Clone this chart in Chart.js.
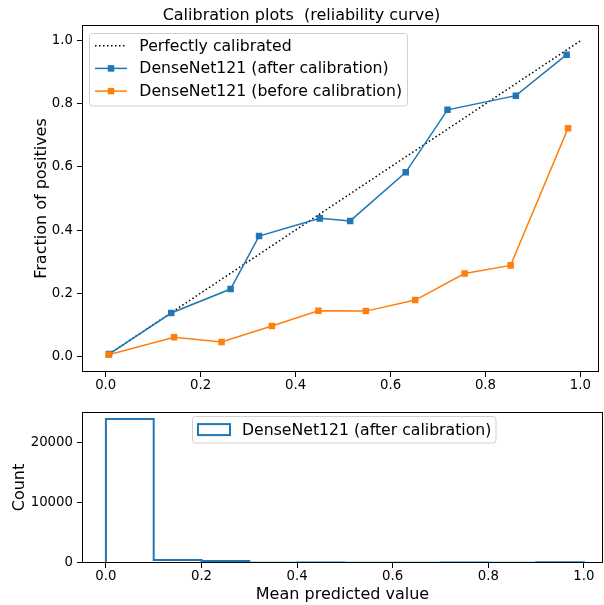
<!DOCTYPE html>
<html><head><meta charset="utf-8">
<script src="https://cdn.jsdelivr.net/npm/chart.js@4/dist/chart.umd.min.js"></script>
<style>
html,body{margin:0;padding:0;background:#fff;}
#wrap{position:relative;width:604px;height:605px;overflow:hidden;}
#c1{position:absolute;left:0;top:0;}
#c2{position:absolute;left:0;top:400px;}
</style></head><body>
<div id="wrap"><canvas id="c1" width="604" height="400"></canvas><canvas id="c2" width="604" height="205"></canvas></div>
<script>
// ---- data ----
const perfectX = [0, 1];
const perfectY = [0, 1];
const afterX  = [0.007, 0.138, 0.263, 0.323, 0.451, 0.515, 0.632, 0.720, 0.864, 0.971];
const afterY  = [0.007, 0.137, 0.213, 0.381, 0.437, 0.429, 0.583, 0.781, 0.826, 0.956];
const beforeX = [0.006, 0.144, 0.244, 0.350, 0.448, 0.548, 0.652, 0.756, 0.853, 0.974];
const beforeY = [0.005, 0.060, 0.045, 0.096, 0.144, 0.143, 0.178, 0.262, 0.288, 0.723];
const binEdges  = [0, 0.1, 0.2, 0.3, 0.4, 0.5, 0.6, 0.7, 0.8, 0.9, 1.0];
const binCounts = [23900, 485, 350, 30, 100, 40, 40, 100, 40, 110];
const xTicks = [0, 0.2, 0.4, 0.6, 0.8, 1.0];
const yTicksTop = [0, 0.2, 0.4, 0.6, 0.8, 1.0];
const yTicksBottom = [0, 10000, 20000];
const labels = {
  title: 'Calibration plots  (reliability curve)',
  perfect: 'Perfectly calibrated',
  after: 'DenseNet121 (after calibration)',
  before: 'DenseNet121 (before calibration)',
  yTop: 'Fraction of positives',
  yBottom: 'Count',
  xBottom: 'Mean predicted value'
};

const FONT = "'DejaVu Sans', sans-serif";
const BLUE = '#1f77b4', ORANGE = '#ff7f0e';
const zip = (xs, ys) => xs.map((x, i) => ({x: x, y: ys[i]}));
function stepOutline(edges, counts) {
  const pts = [{x: edges[0], y: 0}];
  counts.forEach((c, i) => { pts.push({x: edges[i], y: c}); pts.push({x: edges[i + 1], y: c}); });
  pts.push({x: edges[edges.length - 1], y: 0});
  return pts;
}

// frame (all four spines) drawn above data
const framePlugin = {
  id: 'frame',
  afterDatasetsDraw(chart) {
    const a = chart.chartArea, ctx = chart.ctx;
    ctx.save();
    ctx.strokeStyle = '#000';
    ctx.lineWidth = 1;
    ctx.strokeRect(Math.round(a.left) + 0.5, Math.round(a.top) + 0.5,
                   Math.round(a.right - a.left) - 1, Math.round(a.bottom - a.top) - 1);
    ctx.restore();
  }
};

// legend box drawn inside plot area (matplotlib style)
const boxLegendPlugin = {
  id: 'boxLegend',
  afterDraw(chart, args, o) {
    if (!o || !o.entries) return;
    const ctx = chart.ctx;
    ctx.save();
    const r = 3;
    ctx.beginPath();
    ctx.moveTo(o.x + r, o.y);
    ctx.arcTo(o.x + o.w, o.y, o.x + o.w, o.y + o.h, r);
    ctx.arcTo(o.x + o.w, o.y + o.h, o.x, o.y + o.h, r);
    ctx.arcTo(o.x, o.y + o.h, o.x, o.y, r);
    ctx.arcTo(o.x, o.y, o.x + o.w, o.y, r);
    ctx.closePath();
    ctx.fillStyle = 'rgba(255,255,255,0.8)';
    ctx.fill();
    ctx.strokeStyle = '#d0d0d0';
    ctx.lineWidth = 1;
    ctx.stroke();
    o.entries.forEach((e, i) => {
      const ds = chart.data.datasets[e];
      const cy = o.firstRow + i * o.rowH;
      const x0 = o.sampleX, x1 = o.sampleX + o.sampleW;
      if (o.kind === 'patch') {
        ctx.fillStyle = '#fff';
        ctx.fillRect(x0, cy - 5.5, o.sampleW, 11);
        ctx.strokeStyle = ds.borderColor;
        ctx.lineWidth = 2;
        ctx.strokeRect(x0, cy - 5.5, o.sampleW, 11);
      } else {
        ctx.strokeStyle = ds.borderColor;
        ctx.lineWidth = ds.borderWidth;
        ctx.setLineDash(ds.borderDash || []);
        ctx.beginPath();
        ctx.moveTo(x0, cy); ctx.lineTo(x1, cy);
        ctx.stroke();
        ctx.setLineDash([]);
        if (ds.pointRadius > 0) {
          const s = ds.pointRadius * Math.SQRT1_2;
          ctx.fillStyle = ds.borderColor;
          ctx.fillRect((x0 + x1) / 2 - s, cy - s, 2 * s, 2 * s);
        }
      }
      ctx.fillStyle = '#000';
      ctx.font = '15.7px ' + FONT;
      ctx.textBaseline = 'middle';
      ctx.textAlign = 'left';
      ctx.fillText(ds.label, o.textX, cy + 1);
    });
    ctx.restore();
  }
};

const tickFont = {family: FONT, size: 13.3};
const labelFont = {family: FONT, size: 16};
const gridOpts = {display: true, drawOnChartArea: false, drawTicks: true, tickLength: 5, tickColor: '#000', tickWidth: 1};

function xScale(extra) {
  return Object.assign({
    type: 'linear', min: -0.05, max: 1.04,
    grid: gridOpts, border: {display: false},
    afterBuildTicks: s => { s.ticks = xTicks.map(v => ({value: v})); },
    ticks: {color: '#000', font: tickFont, padding: 0.5, maxRotation: 0, callback: v => v.toFixed(1)}
  }, extra);
}

new Chart(document.getElementById('c1'), {
  type: 'scatter',
  data: {
    datasets: [
      {label: labels.perfect, data: zip(perfectX, perfectY), showLine: true, borderColor: '#000',
       borderWidth: 1.5, borderDash: [1.5, 2.5], pointRadius: 0, order: 2},
      {label: labels.after, data: zip(afterX, afterY), showLine: true, borderColor: BLUE, backgroundColor: BLUE,
       borderWidth: 1.5, pointStyle: 'rect', pointRadius: 4.6, pointBackgroundColor: BLUE, pointBorderWidth: 0, order: 1},
      {label: labels.before, data: zip(beforeX, beforeY), showLine: true, borderColor: ORANGE, backgroundColor: ORANGE,
       borderWidth: 1.5, pointStyle: 'rect', pointRadius: 4.6, pointBackgroundColor: ORANGE, pointBorderWidth: 0, order: 0}
    ]
  },
  options: {
    responsive: false, animation: false, devicePixelRatio: 1,
    layout: {padding: {left: 0, right: 1, top: 0, bottom: 0}},
    scales: {
      x: xScale({afterFit: s => { s.height = 28; }}),
      y: {
        type: 'linear', min: -0.05, max: 1.05,
        grid: gridOpts, border: {display: false},
        afterBuildTicks: s => { s.ticks = yTicksTop.map(v => ({value: v})); },
        afterFit: s => { s.width = 82; },
        ticks: {color: '#000', font: tickFont, padding: 4, callback: v => v.toFixed(1)},
        title: {display: true, text: labels.yTop, color: '#000', font: labelFont, padding: {top: 32, bottom: 0}}
      }
    },
    plugins: {
      legend: {display: false},
      tooltip: {enabled: false},
      title: {display: true, text: labels.title, color: '#000', font: {family: FONT, size: 16, weight: 'normal'},
              padding: {top: 6.5, bottom: -0.7}},
      boxLegend: {x: 89.5, y: 33.5, w: 318, h: 72.5, entries: [0, 1, 2], firstRow: 45.7, rowH: 22.7,
                  sampleX: 95, sampleW: 32, textX: 139.3}
    }
  },
  plugins: [framePlugin, boxLegendPlugin]
});

new Chart(document.getElementById('c2'), {
  type: 'scatter',
  data: {
    datasets: [
      {label: labels.after, data: stepOutline(binEdges, binCounts), showLine: true, borderColor: BLUE,
       backgroundColor: '#fff', borderWidth: 2, pointRadius: 0, borderJoinStyle: 'miter'}
    ]
  },
  options: {
    responsive: false, animation: false, devicePixelRatio: 1,
    layout: {padding: {left: 0, right: 1, top: 8, bottom: 0}},
    scales: {
      x: xScale({
        afterFit: s => { s.height = 42; },
        title: {display: true, text: labels.xBottom, color: '#000', font: labelFont, padding: {top: 0, bottom: 0.5}}
      }),
      y: {
        type: 'linear', min: 0, max: 25060,
        grid: gridOpts, border: {display: false},
        afterBuildTicks: s => { s.ticks = yTicksBottom.map(v => ({value: v})); },
        afterFit: s => { s.width = 82; },
        ticks: {color: '#000', font: tickFont, padding: 4, callback: v => String(v)},
        title: {display: true, text: labels.yBottom, color: '#000', font: labelFont, padding: {top: 10, bottom: 0}}
      }
    },
    plugins: {
      legend: {display: false},
      tooltip: {enabled: false},
      boxLegend: {kind: 'patch', x: 192.5, y: 16.5, w: 303.5, h: 26.5, entries: [0], firstRow: 29.6, rowH: 22.7,
                  sampleX: 198, sampleW: 32, textX: 242}
    }
  },
  plugins: [framePlugin, boxLegendPlugin]
});
</script>
</body></html>
